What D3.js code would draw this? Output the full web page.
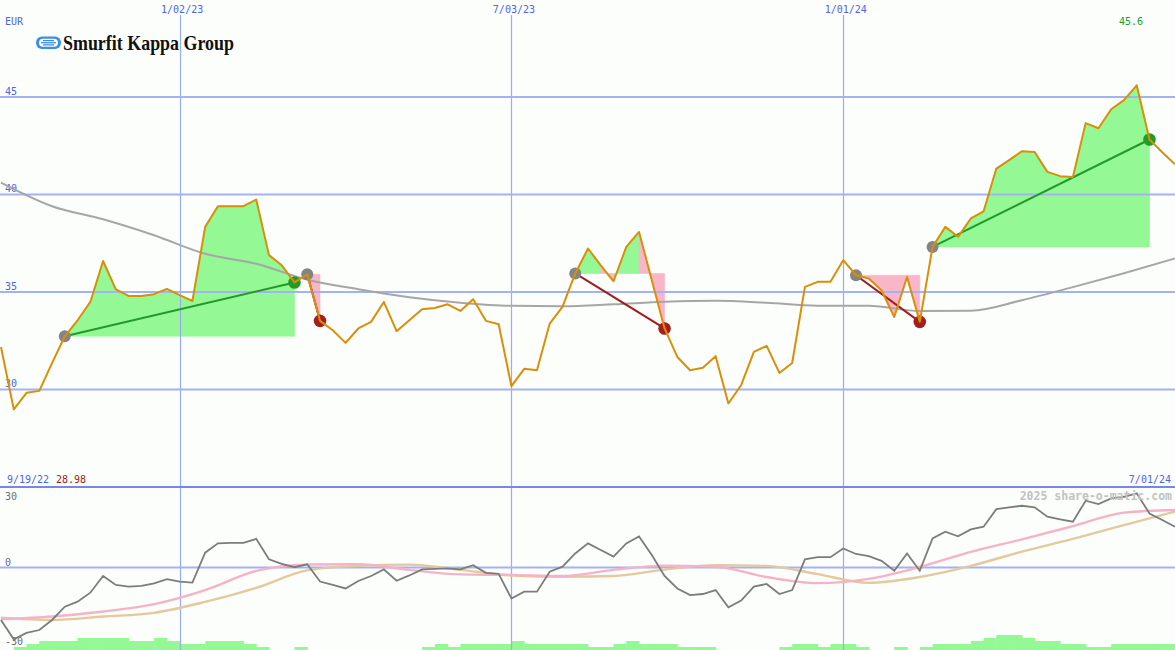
<!DOCTYPE html>
<html><head><meta charset="utf-8">
<script src="https://cdn.jsdelivr.net/npm/d3@7"></script>
<style>html,body{margin:0;padding:0;background:#fcfefc;}svg{display:block}</style>
</head><body>
<svg id="chart" width="1175" height="650"></svg>
<script>
// ---------- data ----------
const firstWeek = new Date(2022, 8, 26);
const lastWeek = new Date(2024, 6, 1);
const weeks = d3.timeMonday.range(firstWeek, d3.timeDay.offset(lastWeek, 1));

// weekly closing price (EUR)
const price = [32.18,28.98,29.83,29.93,31.35,32.73,33.55,34.49,36.59,35.13,
  34.80,34.80,34.89,35.16,34.84,34.54,38.34,39.40,39.40,39.40,
  39.74,36.89,36.37,35.49,35.91,33.52,33.04,32.39,33.13,33.47,
  34.49,32.99,33.55,34.12,34.18,34.37,34.03,34.63,33.52,33.35,
  30.17,31.06,30.99,33.38,34.24,35.95,37.23,36.37,35.55,37.31,
  38.08,35.60,33.13,31.67,30.99,31.11,31.71,29.28,30.22,31.93,
  32.24,30.85,31.36,35.26,35.52,35.52,36.63,35.86,35.69,35.09,
  33.72,35.77,33.47,37.31,38.34,37.83,38.77,39.14,41.33,41.76,
  42.22,42.18,41.16,40.94,40.90,43.66,43.40,44.37,44.84,45.60,
  42.82,42.17,41.55];

// long moving average, read every 4 weeks
const maStep = 4;
const movingAvg = [40.61,39.40,38.73,37.91,36.96,36.45,35.63,35.14,34.73,34.45,
  34.29,34.27,34.37,34.50,34.55,34.45,34.30,34.30,34.02,34.04,34.58,35.25,35.96,36.72];

// oscillator (weekly) and its two averages (every 4 weeks)
const oscillator = [-19.8,-27.1,-24.7,-23.6,-19.8,-14.8,-12.9,-9.5,-3.2,-6.6,
  -7.2,-6.9,-6.0,-4.4,-5.3,-5.7,5.6,9.1,9.3,9.3,
  10.8,3.1,1.4,0.1,1.2,-5.3,-6.6,-7.9,-5.1,-3.2,
  -0.7,-5.0,-3.0,-0.7,-0.5,-0.3,-0.7,0.9,-2.0,-2.4,
  -11.7,-9.1,-9.1,-1.6,0.3,5.3,9.1,6.6,4.1,9.1,
  11.7,4.7,-3.2,-7.9,-10.4,-10.0,-8.5,-15.0,-12.5,-7.2,
  -6.2,-10.0,-8.5,3.1,3.9,3.9,7.2,5.1,4.3,2.5,
  -1.2,5.3,-1.2,11.0,13.5,11.8,14.4,15.4,22.0,22.7,
  23.3,22.7,19.2,18.2,17.3,25.2,23.9,26.1,26.7,28.0,
  20.4,17.9,15.4];
const oscFast = [-19.5,-18.5,-16.6,-13.8,-8.5,-1.3,1.1,1.2,-0.9,-2.6,
  -2.8,-3.2,-0.9,0.7,0.3,-3.6,-5.9,-4.3,0.2,5.9,10.6,15.6,20.7,21.7];
const oscSlow = [-18.9,-19.8,-18.5,-17.1,-13.0,-7.7,-1.1,0.6,1.1,-0.9,
  -3.0,-3.5,-3.2,-0.8,0.9,0.6,-2.5,-5.8,-3.6,0.6,6.0,10.8,16.0,21.1];

// relative weekly volume level
const volume = [0,1,2,3,3,3,4,4,4,4,3,3,4,3,2,2,3,3,3,2,
  1,0,0,1,0,0,0,0,0,0,0,0,0,1,2,1,2,2,2,2,
  3,2,2,2,2,2,1,1,2,3,2,2,2,1,1,1,0,0,0,0,
  0,1,2,2,1,2,2,1,0,0,1,0,1,2,2,2,3,4,5,5,
  4,3,3,2,2,1,1,2,2,2,2,2];

// trades
const tradeEntry = [new Date(2022,9,31), new Date(2023,2,13), new Date(2023,7,7), new Date(2024,0,8), new Date(2024,1,19)];
const tradeExit  = [new Date(2023,2,6),  new Date(2023,2,20), new Date(2023,8,25), new Date(2024,1,12), new Date(2024,5,17)];

// axis ticks / labels
const priceTicks = [30,35,40,45];
const oscTicks = [30,0,-30];
const gridDates = [new Date(2023,0,2), new Date(2023,6,3), new Date(2024,0,1)];
const gridLabels = ["1/02/23","7/03/23","1/01/24"];
const currency = "EUR";
const startLabel = "9/19/22";
const endLabel = "7/01/24";
const lowLabel = "28.98";
const highLabel = "45.6";
const credit = "2025 share-o-matic.com";
const company = "Smurfit Kappa Group";

// ---------- drawing ----------
const W = 1175, H = 650;
const svg = d3.select("#chart");
const x = d3.scaleTime().domain([weeks[0], weeks[weeks.length-1]]).range([1, W]);
const y = d3.scaleLinear().domain([25, 50]).range([487, -0.5]);
const yo = d3.scaleLinear().domain([-30, 30]).range([647, 488]);
const yv = d3.scaleLinear().domain([0, 5]).range([650, 635]);

const GRID = "#a3b2f3", VGRID = "#9aabf5", BLUE = "#4f63ec", GREEN_FILL = "#94f894", PINK = "#f9b5c9";
const mono = "DejaVu Sans Mono, monospace";

svg.append("rect").attr("width", W).attr("height", H).attr("fill", "#fcfefc");

// trade fills
const idxOf = d => weeks.findIndex(w => Math.abs(w - d) < 3*864e5);
const fills = svg.append("g");
tradeEntry.forEach((ed, t) => {
  const a = idxOf(ed), b = idxOf(tradeExit[t]);
  const base = price[a];
  let runStart = a;
  const colorOf = j => price[j+1] >= base ? GREEN_FILL : PINK;
  for (let j = a; j < b; j++) {
    const c = colorOf(j);
    if (j === b - 1 || colorOf(j+1) !== c) {
      const pts = [[x(weeks[runStart]), y(base)]];
      for (let k = runStart; k <= j+1; k++) pts.push([x(weeks[k]), y(price[k])]);
      pts.push([x(weeks[j+1]), y(base)]);
      fills.append("path").attr("d", "M" + pts.map(p => p.join(",")).join("L") + "Z")
        .attr("fill", c).attr("stroke", c).attr("stroke-width", 0.6);
      runStart = j + 1;
    }
  }
});

// volume bars
svg.append("g").selectAll("rect").data(volume).join("rect")
  .attr("x", (v, i) => x(weeks[i]))
  .attr("width", (v, i) => x(weeks[i+1]) - x(weeks[i]) + 0.5)
  .attr("y", v => yv(v))
  .attr("height", v => yv(0) - yv(v))
  .attr("fill", GREEN_FILL);

// vertical grid (snapped to pixel)
const px = v => Math.round(v) + 0.5;
svg.append("g").selectAll("line").data(gridDates).join("line")
  .attr("x1", d => px(x(d))).attr("x2", d => px(x(d)))
  .attr("y1", 15).attr("y2", H)
  .attr("stroke", VGRID).attr("stroke-width", 1.2);
svg.append("g").selectAll("text").data(gridDates).join("text")
  .attr("x", d => x(d) + 2.5).attr("y", 13)
  .attr("text-anchor", "middle").attr("font-family", mono).attr("font-size", 10)
  .attr("fill", BLUE).text((d, i) => gridLabels[i]);

// horizontal grid main
svg.append("g").selectAll("line").data(priceTicks).join("line")
  .attr("x1", 0).attr("x2", W).attr("y1", d => y(d)).attr("y2", d => y(d))
  .attr("stroke", GRID).attr("stroke-width", 2);
svg.append("g").selectAll("text").data(priceTicks).join("text")
  .attr("x", 5).attr("y", d => y(d) - 2.5)
  .attr("font-family", mono).attr("font-size", 10).attr("fill", BLUE).text(d => d);

// bottom zero line and separator
svg.append("line").attr("x1", 0).attr("x2", W).attr("y1", yo(0)).attr("y2", yo(0))
  .attr("stroke", GRID).attr("stroke-width", 2);
svg.append("line").attr("x1", 0).attr("x2", W).attr("y1", 487).attr("y2", 487)
  .attr("stroke", "#7886ec").attr("stroke-width", 2);
svg.append("g").selectAll("text").data(oscTicks).join("text")
  .attr("x", 5).attr("y", d => Math.max(500, Math.min(647, yo(d) - 2)))
  .attr("font-family", mono).attr("font-size", 10).attr("fill", "#6e6e6e").text(d => d);

// moving average main
const maWeeks = movingAvg.map((v, i) => weeks[Math.min(i*maStep, weeks.length-1)]);
svg.append("path").datum(movingAvg)
  .attr("d", d3.line().x((v, i) => x(maWeeks[i])).y(v => y(v)).curve(d3.curveMonotoneX))
  .attr("fill", "none").attr("stroke", "#a6a6a6").attr("stroke-width", 2);

// oscillator averages + oscillator
const oLine = (arr, dates) => d3.line().x((v, i) => x(dates[i])).y(v => yo(v)).curve(d3.curveMonotoneX)(arr);
svg.append("path").attr("d", oLine(oscSlow, maWeeks)).attr("fill", "none").attr("stroke", "#e3c99d").attr("stroke-width", 2.4);
svg.append("path").attr("d", oLine(oscFast, maWeeks)).attr("fill", "none").attr("stroke", "#f6b2c6").attr("stroke-width", 2.4);
svg.append("path").datum(oscillator)
  .attr("d", d3.line().x((v, i) => x(weeks[i])).y(v => yo(v)))
  .attr("fill", "none").attr("stroke", "#7c7c7c").attr("stroke-width", 1.8);

// trade lines and dots
tradeEntry.forEach((ed, t) => {
  const a = idxOf(ed), b = idxOf(tradeExit[t]);
  const win = price[b] >= price[a];
  svg.append("line")
    .attr("x1", x(weeks[a])).attr("y1", y(price[a]))
    .attr("x2", x(weeks[b])).attr("y2", y(price[b]))
    .attr("stroke", win ? "#22992a" : "#a01c1c").attr("stroke-width", 2);
  svg.append("circle").attr("cx", x(weeks[a])).attr("cy", y(price[a])).attr("r", 6).attr("fill", "#848484");
  svg.append("circle").attr("cx", x(weeks[b])).attr("cy", y(price[b])).attr("r", 6.3)
    .attr("fill", win ? "#269a26" : "#a41e1e");
});

// price line
svg.append("path").datum(price)
  .attr("d", d3.line().x((v, i) => x(weeks[i])).y(v => y(v)))
  .attr("fill", "none").attr("stroke", "#d98f08").attr("stroke-width", 2).attr("stroke-linejoin", "round");

// texts
const txt = (s, xx, yy, col, anchor) => svg.append("text").attr("x", xx).attr("y", yy).attr("fill", col)
    .attr("font-family", mono).attr("font-size", 10).attr("text-anchor", anchor || "start").text(s);
txt(currency, 5, 25, BLUE);
txt(highLabel, 1143, 25, "#229a22", "end");
txt(startLabel, 7, 483, BLUE);
txt(lowLabel, 56, 483, "#a01c1c");
txt(endLabel, 1171, 483, BLUE, "end");
txt(credit, 1172, 500, "#c2c2c2", "end").attr("font-size", 11.5).attr("font-weight", "bold");

// logo
const logo = svg.append("g");
logo.append("rect").attr("x", 36).attr("y", 36.5).attr("width", 25).attr("height", 12.5).attr("rx", 6).attr("fill", "#3b8ee2");
logo.append("rect").attr("x", 39).attr("y", 38.8).attr("width", 19).attr("height", 8).attr("rx", 4).attr("fill", "#ffffff");
[40.6, 42.75, 44.9].forEach((yy, i) => {
  logo.append("line").attr("x1", 41 + (i === 1 ? 0 : 2)).attr("x2", 56 - (i === 1 ? 0 : 2)).attr("y1", yy).attr("y2", yy)
    .attr("stroke", "#3b8ee2").attr("stroke-width", 1.3);
});
logo.append("text").attr("x", 63).attr("y", 49.5)
  .attr("font-family", "Liberation Serif, Times New Roman, serif").attr("font-size", 21).attr("font-weight", "bold")
  .attr("fill", "#111").attr("textLength", 171).attr("lengthAdjust", "spacingAndGlyphs").text(company);
</script>
</body></html>
